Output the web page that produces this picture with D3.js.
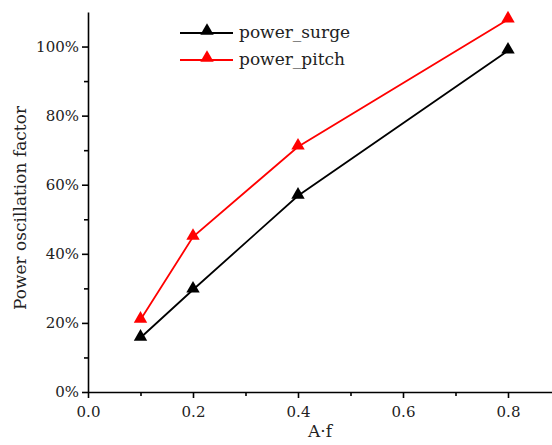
<!DOCTYPE html>
<html>
<head>
<meta charset="utf-8">
<script src="https://cdn.jsdelivr.net/npm/d3@7"></script>
<style>
  body { margin: 0; background: #fff; }
  text { font-family: "DejaVu Serif", "Liberation Serif", serif; fill: #222; }
</style>
</head>
<body>
<div id="chart"></div>
<script>
// data
const xValues = [0.1, 0.2, 0.4, 0.8];
const surge = [0.157, 0.296, 0.568, 0.988];
const pitch = [0.209, 0.449, 0.710, 1.078];
const seriesNames = ["power_surge", "power_pitch"];
const seriesColors = ["#000000", "#ff0000"];
const xTicks = [0, 0.2, 0.4, 0.6, 0.8];
const xMinor = [0.1, 0.3, 0.5, 0.7];
const yTicks = [0, 0.2, 0.4, 0.6, 0.8, 1.0];
const yMinor = [0.1, 0.3, 0.5, 0.7, 0.9];

const width = 552, height = 445;
const margin = { top: 12, left: 88, bottom: 53 };

const svg = d3.select("#chart").append("svg")
  .attr("width", width)
  .attr("height", height);

const x = d3.scaleLinear().domain([0, 0.9]).range([margin.left, margin.left + 525 * 0.9]);
const y = d3.scaleLinear().domain([0, 1.1]).range([height - margin.bottom, margin.top]);

// x axis
const xAxis = svg.append("g")
  .attr("transform", "translate(0," + y(0) + ")")
  .call(d3.axisBottom(x).tickValues(xTicks).tickFormat(d3.format(".1f")).tickSize(6).tickSizeOuter(0));
svg.append("g")
  .attr("transform", "translate(0," + y(0) + ")")
  .call(d3.axisBottom(x).tickValues(xMinor).tickFormat("").tickSize(4).tickSizeOuter(0))
  .select(".domain").remove();

// y axis
const yAxis = svg.append("g")
  .attr("transform", "translate(" + x(0) + ",0)")
  .call(d3.axisLeft(y).tickValues(yTicks).tickFormat(d3.format(".0%")).tickSize(6).tickSizeOuter(0));
svg.append("g")
  .attr("transform", "translate(" + x(0) + ",0)")
  .call(d3.axisLeft(y).tickValues(yMinor).tickFormat("").tickSize(4).tickSizeOuter(0))
  .select(".domain").remove();

svg.selectAll(".domain").attr("stroke", "#000").attr("stroke-width", 1.6);
svg.selectAll(".tick line").attr("stroke", "#000").attr("stroke-width", 1.6);
xAxis.selectAll(".tick text").attr("font-size", 15).attr("dy", "1.05em");
yAxis.selectAll(".tick text").attr("font-size", 15).attr("x", -9);

// axis titles
svg.append("text")
  .attr("x", 320).attr("y", 437)
  .attr("text-anchor", "middle")
  .attr("font-size", 17)
  .text("A·f");

svg.append("text")
  .attr("transform", "translate(26," + 208 + ") rotate(-90)")
  .attr("text-anchor", "middle")
  .attr("font-size", 17)
  .text("Power oscillation factor");

// lines and markers
const series = [surge, pitch];
const line = d3.line()
  .x((d, i) => x(xValues[i]))
  .y(d => y(d));
const tri = d3.symbol().type(d3.symbolTriangle).size(78);

series.forEach((vals, s) => {
  svg.append("path")
    .datum(vals)
    .attr("fill", "none")
    .attr("stroke", seriesColors[s])
    .attr("stroke-width", 1.8)
    .attr("d", line);
  svg.selectAll(".m" + s)
    .data(vals)
    .enter().append("path")
    .attr("transform", (d, i) => "translate(" + x(xValues[i]) + "," + (y(d) - 1) + ")")
    .attr("d", tri)
    .attr("fill", seriesColors[s]);
});

// legend
const legend = svg.append("g");
seriesNames.forEach((name, i) => {
  const ly = 33 + i * 27;
  legend.append("line")
    .attr("x1", 180).attr("x2", 233)
    .attr("y1", ly).attr("y2", ly)
    .attr("stroke", seriesColors[i]).attr("stroke-width", 1.8);
  legend.append("path")
    .attr("transform", "translate(207," + (ly - 2) + ")")
    .attr("d", tri)
    .attr("fill", seriesColors[i]);
  legend.append("text")
    .attr("x", 239).attr("y", ly + 5)
    .attr("font-size", 17)
    .text(name);
});
</script>
</body>
</html>
